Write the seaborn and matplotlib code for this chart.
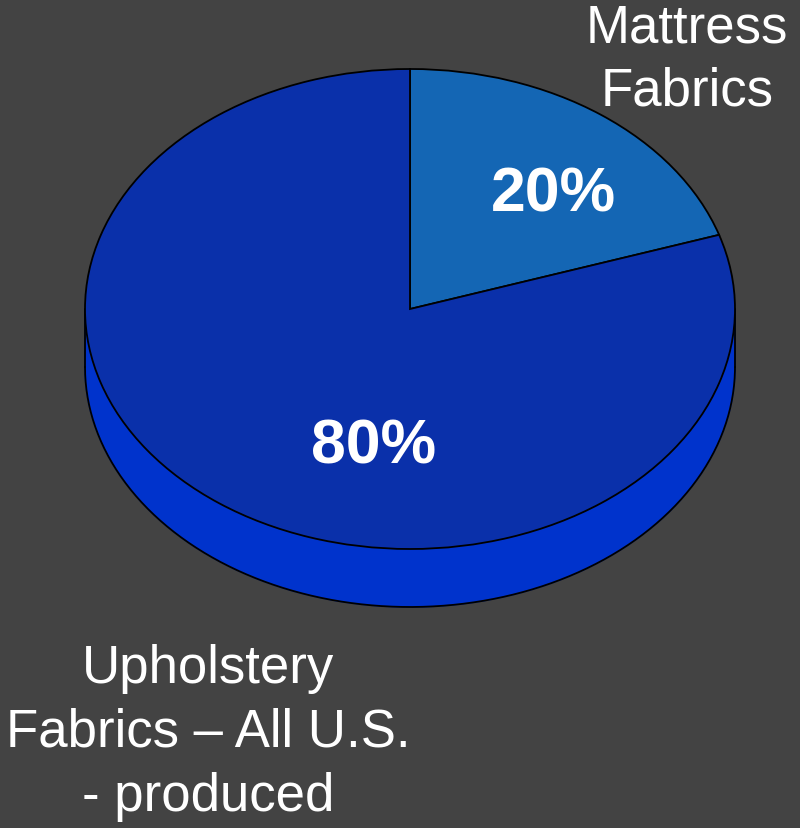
import numpy as np
import matplotlib.pyplot as plt
import seaborn as sns

# chart data
labels = ["Mattress\nFabrics", "Upholstery\nFabrics – All U.S.\n- produced"]
shares = [20, 80]
pct_labels = ["20%", "80%"]

top_colors = ["#1466b4", "#0a30aa"]
side_color = "#0033cc"
bg_color = "#434343"

sns.set_theme(style="white")
plt.rcParams["font.family"] = ["Liberation Sans", "DejaVu Sans"]

W, H = 800, 829
fig = plt.figure(figsize=(W / 100, H / 100), dpi=100)
fig.patch.set_facecolor(bg_color)
ax = fig.add_axes([0, 0, 1, 1])
ax.set_facecolor(bg_color)

# ellipse geometry in pixels: centre (410, 310), radii 325 x 240, depth 58
cx, cy, rx, ry, depth = 410, 310, 325, 240, 58

wedges, _ = ax.pie(
    shares,
    colors=top_colors,
    startangle=90,
    counterclock=False,
    wedgeprops={"edgecolor": "black", "linewidth": 1.3},
)
for w in wedges:
    w.set_zorder(3)

# side band of the disc (front half only)
t = np.linspace(np.pi, 2 * np.pi, 200)
d = depth / ry
xs = np.concatenate([np.cos(t), np.cos(t[::-1])])
ys = np.concatenate([np.sin(t), np.sin(t[::-1]) - d])
ax.fill(xs, ys, color=side_color, zorder=2)
ax.plot(np.cos(t), np.sin(t) - d, color="black", lw=1.3, zorder=2.5)
ax.plot([-1, -1], [0, -d], color="black", lw=1.3, zorder=2.5)
ax.plot([1, 1], [0, -d], color="black", lw=1.3, zorder=2.5)

ax.set_aspect("auto")
ax.set_xlim(-cx / rx, (W - cx) / rx)
ax.set_ylim(-(H - cy) / ry, cy / ry)
ax.axis("off")

# percentage labels
def px(x, y):
    return (x - cx) / rx, (cy - y) / ry

ax.text(*px(553, 195), pct_labels[0], color="white", fontsize=45,
        fontweight="bold", ha="center", va="center", zorder=5)
ax.text(*px(374, 447), pct_labels[1], color="white", fontsize=45,
        fontweight="bold", ha="center", va="center", zorder=5)

# category labels
ax.text(*px(687, 60), labels[0], color="white", fontsize=38,
        ha="center", va="center", linespacing=1.35, zorder=5)
ax.text(*px(208, 733), labels[1], color="white", fontsize=38,
        ha="center", va="center", linespacing=1.35, zorder=5)

fig.savefig("out.png", dpi=100, facecolor=bg_color)
